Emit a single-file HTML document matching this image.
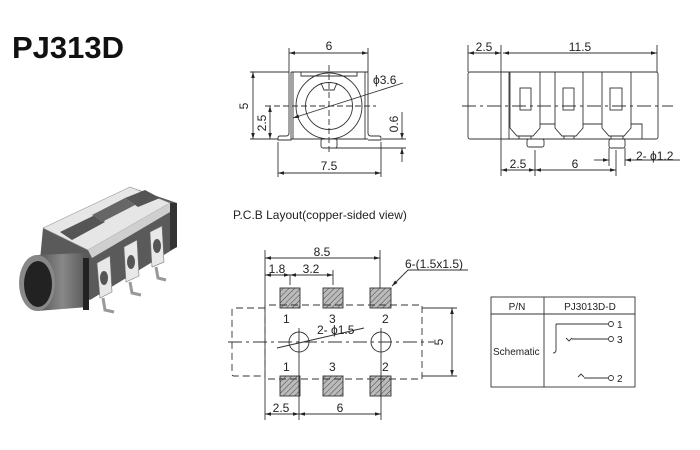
<!DOCTYPE html>
<html><head><meta charset="utf-8"><style>
html,body{margin:0;padding:0;background:#fff;}
svg{display:block;font-family:"Liberation Sans",sans-serif;}
</style></head><body>
<svg width="700" height="450" viewBox="0 0 700 450" xmlns="http://www.w3.org/2000/svg">
<defs>
<marker id="a" viewBox="0 0 10 6" refX="10" refY="3" markerWidth="7" markerHeight="4" orient="auto-start-reverse"><path d="M0,0L10,3L0,6z" fill="#222"/></marker>
<pattern id="h" width="4" height="4" patternUnits="userSpaceOnUse" patternTransform="rotate(45)"><rect width="4" height="4" fill="#bbb"/><line x1="0" y1="0" x2="0" y2="4" stroke="#444" stroke-width="1"/></pattern>
<linearGradient id="cyl" x1="0" y1="0" x2="1" y2="0"><stop offset="0" stop-color="#555"/><stop offset="0.5" stop-color="#888"/><stop offset="1" stop-color="#555"/></linearGradient>
</defs>
<text x="12" y="58" font-size="31" font-weight="bold" fill="#111">PJ313D</text>

<!-- photo -->
<g>
<polygon points="43,228 130,187 177,203 177,247 90,300 40,260" fill="#5a5a5a"/>
<polygon points="43,228 130,187 170,203 88,250" fill="#e6e6e6" stroke="#999" stroke-width="0.6"/>
<polygon points="60,232 95,215 105,222 72,240" fill="#555"/>
<polygon points="92,215 125,198 135,205 102,222" fill="#666"/>
<polygon points="125,198 145,190 160,198 138,207" fill="#555"/>
<polygon points="170,203 177,203 177,247 170,250" fill="#333"/>
<polygon points="88,250 170,203 170,212 92,258" fill="#cfcfcf"/>
<polygon points="97,263 110,256 112,292 100,298" fill="#e8e8e8" stroke="#777" stroke-width="0.6"/>
<polygon points="124,247 137,240 139,276 126,282" fill="#e8e8e8" stroke="#777" stroke-width="0.6"/>
<polygon points="150,232 162,226 164,262 152,267" fill="#e8e8e8" stroke="#777" stroke-width="0.6"/>
<ellipse cx="104" cy="278" rx="4" ry="7" fill="#555"/>
<ellipse cx="131" cy="262" rx="4" ry="7" fill="#555"/>
<ellipse cx="157" cy="246" rx="4" ry="7" fill="#555"/>
<path d="M103,298 L105,310 L114,312" stroke="#999" stroke-width="3" fill="none"/>
<path d="M130,282 L132,293 L141,295" stroke="#999" stroke-width="3" fill="none"/>
<path d="M156,267 L158,278 L166,280" stroke="#999" stroke-width="3" fill="none"/>
<polygon points="37,255 83,253 88,307 37,311" fill="url(#cyl)"/>
<ellipse cx="37" cy="283" rx="18" ry="28" fill="#888"/>
<ellipse cx="38" cy="284" rx="14" ry="23" fill="#222"/>
<rect x="83" y="258" width="6" height="52" fill="#222"/>
</g>

<g stroke="#333" stroke-width="0.9" fill="none" font-size="12">
<!-- FRONT VIEW -->
<line x1="289" y1="48" x2="289" y2="72"/><line x1="368" y1="48" x2="368" y2="72"/>
<line x1="289" y1="53" x2="368" y2="53" marker-start="url(#a)" marker-end="url(#a)"/>
<path d="M291,72 H368 M289,72 V133 Q289,136 286,136 H280 Q278,136 278,138 V140 H291 V72"/>
<path d="M368,72 V133 Q368,136 371,136 H379 Q381,136 381,138 V140 H368"/>
<line x1="293" y1="72" x2="293" y2="139"/><line x1="365" y1="72" x2="365" y2="139"/>
<line x1="291" y1="139" x2="368" y2="139"/>
<path d="M301,72 V76 H357 V72"/>
<circle cx="329" cy="106" r="33"/><circle cx="329" cy="106" r="23.5"/>
<path d="M321,83 L324,90 H334 L337,83"/>
<rect x="321" y="139" width="16" height="9" rx="2"/>
<line x1="265" y1="106" x2="376" y2="106" stroke-dasharray="6,3"/>
<line x1="329" y1="65" x2="329" y2="152" stroke-dasharray="6,3"/>
<line x1="250" y1="72" x2="289" y2="72"/><line x1="250" y1="139" x2="278" y2="139"/>
<line x1="253" y1="72" x2="253" y2="139" marker-start="url(#a)" marker-end="url(#a)"/>
<line x1="270" y1="106" x2="270" y2="139" marker-start="url(#a)" marker-end="url(#a)"/>
<line x1="335" y1="148" x2="406" y2="148"/><line x1="382" y1="139" x2="406" y2="139"/>
<line x1="402" y1="112" x2="402" y2="139" marker-end="url(#a)"/>
<line x1="402" y1="162" x2="402" y2="148" marker-end="url(#a)"/>
<line x1="278" y1="142" x2="278" y2="177"/><line x1="381" y1="142" x2="381" y2="177"/>
<line x1="278" y1="173" x2="381" y2="173" marker-start="url(#a)" marker-end="url(#a)"/>
<line x1="293" y1="118" x2="403" y2="83" marker-start="url(#a)"/>

<!-- SIDE VIEW -->
<line x1="468" y1="45" x2="468" y2="72"/><line x1="501" y1="45" x2="501" y2="176"/><line x1="657" y1="45" x2="657" y2="72"/>
<line x1="468" y1="53" x2="501" y2="53" marker-start="url(#a)" marker-end="url(#a)"/>
<line x1="503" y1="53" x2="657" y2="53" marker-start="url(#a)" marker-end="url(#a)"/>
<rect x="468" y="72" width="190" height="67" rx="2"/>
<line x1="509" y1="72" x2="509" y2="139"/>
<path d="M510,72 V128 L517,136 H533 L540,128 V72"/>
<path d="M555,72 V128 L562,136 H576 L583,128 V72"/>
<path d="M602,72 V128 L609,136 H624 L631,128 V72"/>
<path d="M519,136 V139 M531,136 V139 M564,136 V139 M574,136 V139 M611,136 V139 M623,136 V139"/>
<rect x="520" y="88" width="11" height="22"/><rect x="563" y="88" width="11" height="22"/><rect x="610" y="88" width="12" height="22"/>
<path d="M540,124 H555 M583,124 H602 M631,124 H642 V139"/>
<line x1="462" y1="106" x2="673" y2="106" stroke-dasharray="14,4,3,4"/>
<rect x="527" y="139" width="17" height="8" rx="2"/>
<rect x="609" y="139" width="16" height="9" rx="2"/>
<line x1="535" y1="150" x2="535" y2="176"/><line x1="616" y1="150" x2="616" y2="176"/>
<line x1="609" y1="148" x2="609" y2="166"/><line x1="625" y1="148" x2="625" y2="166"/>
<line x1="501" y1="170" x2="535" y2="170" marker-start="url(#a)" marker-end="url(#a)"/>
<line x1="535" y1="170" x2="616" y2="170" marker-start="url(#a)" marker-end="url(#a)"/>
<line x1="594" y1="160" x2="609" y2="160" marker-end="url(#a)"/>
<line x1="680" y1="160" x2="625" y2="160" marker-end="url(#a)"/>

<!-- PCB -->
<line x1="265" y1="250" x2="265" y2="420"/><line x1="380" y1="250" x2="380" y2="288"/>
<line x1="265" y1="258" x2="380" y2="258" marker-start="url(#a)" marker-end="url(#a)"/>
<line x1="265" y1="275" x2="290" y2="275" marker-start="url(#a)" marker-end="url(#a)"/>
<line x1="290" y1="275" x2="333" y2="275" marker-start="url(#a)" marker-end="url(#a)"/>
<line x1="290" y1="275" x2="290" y2="285"/><line x1="333" y1="270" x2="333" y2="285"/>
<g fill="url(#h)" stroke="#333">
<rect x="280" y="288" width="20" height="20"/><rect x="323" y="288" width="20" height="20"/><rect x="370" y="288" width="21" height="20"/>
<rect x="280" y="376" width="20" height="20"/><rect x="323" y="376" width="20" height="20"/><rect x="370" y="376" width="21" height="20"/>
</g>
<path d="M392,286 L408,270 H468" marker-start="url(#a)"/>
<path d="M265,308 H234 Q232,308 232,310 V374 Q232,376 234,376 H265" stroke-dasharray="7,4"/>
<path d="M265,305 V379 H422 V305 Z" stroke-dasharray="7,4"/>
<line x1="422" y1="308" x2="457" y2="308"/><line x1="422" y1="376" x2="457" y2="376"/>
<line x1="452" y1="308" x2="452" y2="376" marker-start="url(#a)" marker-end="url(#a)"/>
<line x1="228" y1="342" x2="434" y2="342" stroke-dasharray="14,4,3,4"/>
<circle cx="299" cy="342" r="10"/><circle cx="381" cy="342" r="10"/>
<line x1="299" y1="328" x2="299" y2="420"/><line x1="381" y1="328" x2="381" y2="420"/>
<line x1="277" y1="348" x2="364" y2="328"/>
<line x1="265" y1="414" x2="299" y2="414" marker-start="url(#a)" marker-end="url(#a)"/>
<line x1="299" y1="414" x2="381" y2="414" marker-start="url(#a)" marker-end="url(#a)"/>

<!-- TABLE -->
<rect x="491" y="297" width="144" height="90"/>
<line x1="491" y1="314" x2="635" y2="314"/><line x1="544" y1="297" x2="544" y2="387"/>
<path d="M556,324 H608 M556,324 V350 Q556,353 553,353"/>
<circle cx="611" cy="324" r="2.5"/>
<path d="M566,338 L569,341 L572,338 M572,339 H608"/><circle cx="611" cy="339" r="2.5"/>
<path d="M578,377 L581,374 L584,377 M584,378 H608"/><circle cx="611" cy="378" r="2.5"/>
</g>

<g fill="#222" font-size="12">
<text x="329" y="50" text-anchor="middle">6</text>
<text x="248" y="106" transform="rotate(-90 248 106)" text-anchor="middle">5</text>
<text x="266" y="123" transform="rotate(-90 266 123)" text-anchor="middle">2.5</text>
<text x="398" y="124" transform="rotate(-90 398 124)" text-anchor="middle">0.6</text>
<text x="329" y="170" text-anchor="middle">7.5</text>
<text x="373" y="84">ϕ3.6</text>
<text x="484" y="51" text-anchor="middle">2.5</text>
<text x="580" y="51" text-anchor="middle">11.5</text>
<text x="518" y="168" text-anchor="middle">2.5</text>
<text x="575" y="168" text-anchor="middle">6</text>
<text x="636" y="160">2- ϕ1.2</text>
<text x="233" y="219" font-size="12">P.C.B Layout(copper-sided view)</text>
<text x="322" y="256" text-anchor="middle">8.5</text>
<text x="277" y="273" text-anchor="middle">1.8</text>
<text x="311" y="273" text-anchor="middle">3.2</text>
<text x="405" y="268">6-(1.5x1.5)</text>
<text x="283" y="323">1</text><text x="329" y="323">3</text><text x="382" y="323">2</text>
<text x="283" y="371">1</text><text x="329" y="371">3</text><text x="382" y="371">2</text>
<text x="317" y="334">2- ϕ1.5</text>
<text x="443" y="342" transform="rotate(-90 443 342)" text-anchor="middle">5</text>
<text x="281" y="412" text-anchor="middle">2.5</text>
<text x="340" y="412" text-anchor="middle">6</text>
<g font-size="10">
<text x="517" y="310" text-anchor="middle">P/N</text>
<text x="590" y="310" text-anchor="middle">PJ3013D-D</text>
<text x="493" y="355">Schematic</text>
<text x="617" y="328">1</text><text x="617" y="343">3</text><text x="617" y="382">2</text>
</g>
</g>
</svg>
</body></html>
